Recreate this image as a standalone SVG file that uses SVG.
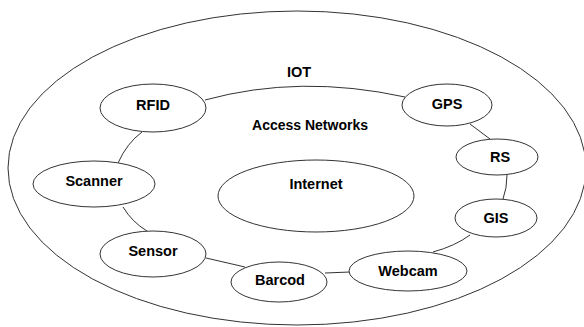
<svg xmlns="http://www.w3.org/2000/svg" width="584" height="327" viewBox="0 0 584 327">
<style>
.s{fill:none;stroke:#333;stroke-width:1}
.n{fill:#fff;stroke:#333;stroke-width:1}
text{font-family:"Liberation Sans",Arial,sans-serif;font-weight:bold;font-size:14.5px;fill:#000;text-anchor:middle}
</style>
<rect width="584" height="327" fill="#fff"/>
<g id="iot">
<ellipse class="s" cx="297" cy="168" rx="289" ry="157"/>
<text x="299" y="77">IOT</text>
</g>
<g id="access-label"><text x="310" y="130" style="font-size:14px">Access Networks</text></g>
<g id="connectors">
<path class="s" d="M205,100 Q300,74 405,97"/>
<path class="s" d="M470,124 L490,139"/>
<path class="s" d="M507,175 Q507,188 503,199"/>
<path class="s" d="M470,235 Q455,246 433,252"/>
<path class="s" d="M350,272 L325,273"/>
<path class="s" d="M245,267 L206,258"/>
<path class="s" d="M147,231 Q132,222 123,207"/>
<path class="s" d="M118,163 Q127,143 142,132"/>
</g>
<g id="internet"><ellipse class="n" cx="316" cy="196" rx="98" ry="36"/><text x="316" y="189">Internet</text></g>
<g id="rfid"><ellipse class="n" cx="153" cy="108" rx="53" ry="24"/><text x="153" y="110">RFID</text></g>
<g id="gps"><ellipse class="n" cx="447" cy="105" rx="45" ry="21"/><text x="447" y="109">GPS</text></g>
<g id="rs"><ellipse class="n" cx="497" cy="157" rx="41" ry="18"/><text x="500" y="162">RS</text></g>
<g id="gis"><ellipse class="n" cx="496" cy="218" rx="41" ry="19"/><text x="496" y="223">GIS</text></g>
<g id="webcam"><ellipse class="n" cx="408" cy="271" rx="59" ry="20"/><text x="408" y="276">Webcam</text></g>
<g id="barcod"><ellipse class="n" cx="279" cy="282" rx="48" ry="20"/><text x="280" y="285">Barcod</text></g>
<g id="sensor"><ellipse class="n" cx="153" cy="254" rx="53" ry="23"/><text x="153" y="256">Sensor</text></g>
<g id="scanner"><ellipse class="n" cx="94" cy="184" rx="61" ry="23"/><text x="94" y="186">Scanner</text></g>
</svg>
